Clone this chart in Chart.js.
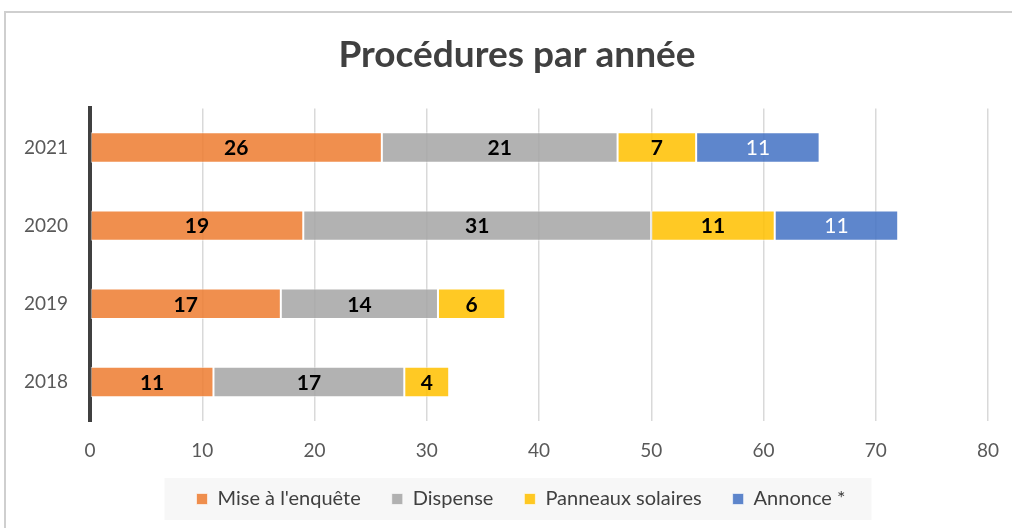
<!DOCTYPE html>
<html>
<head>
<meta charset="utf-8">
<script src="https://cdn.jsdelivr.net/npm/chart.js@4.4.1/dist/chart.umd.min.js"></script>
<style>
  html, body { margin: 0; padding: 0; background: #fff; overflow: hidden; }
  #frame { position: absolute; left: 4px; top: 11px; width: 1100px; height: 600px; border: 2px solid #cfcfcf; }
  #wrap { position: absolute; left: 0; top: 0; width: 1012px; height: 528px; }
</style>
</head>
<body>
<div id="frame"></div>
<div id="wrap"><canvas id="chart"></canvas></div>
<script>
// Données
const annees = ['2021', '2020', '2019', '2018'];
const miseEnquete = [26, 19, 17, 11];
const dispense = [21, 31, 14, 17];
const panneaux = [7, 11, 6, 4];
const annonce = [11, 11, null, null];
const xMax = 80;
const xPas = 10;

const police = 'Lato, "Open Sans", sans-serif';

// Décale un peu le titre et la légende vers la droite (centrés sur le cadre)
const recentrer = {
    id: 'recentrer',
    afterLayout(chart) {
        if (chart.titleBlock) chart.titleBlock.left += 22;
        if (chart.legend) chart.legend.left += 30;
    }
};

// Fond gris clair derrière la légende
const fondLegende = {
    id: 'fondLegende',
    beforeDraw(chart) {
        const lg = chart.legend;
        if (!lg || !lg.legendHitBoxes || !lg.legendHitBoxes.length) return;
        const boxes = lg.legendHitBoxes;
        const gauche = Math.min(...boxes.map(b => b.left));
        const droite = Math.max(...boxes.map(b => b.left + b.width));
        const milieu = boxes[0].top + boxes[0].height / 2;
        const ctx = chart.ctx;
        ctx.save();
        ctx.fillStyle = '#f7f7f7';
        ctx.fillRect(gauche - 32, milieu - 21, droite - gauche + 58, 42);
        ctx.restore();
    }
};

// Étiquettes de valeurs au centre des barres
const etiquettes = {
    id: 'etiquettes',
    afterDatasetsDraw(chart) {
        const ctx = chart.ctx;
        ctx.save();
        ctx.textAlign = 'center';
        ctx.textBaseline = 'middle';
        chart.data.datasets.forEach((ds, i) => {
            const meta = chart.getDatasetMeta(i);
            if (meta.hidden) return;
            meta.data.forEach((bar, j) => {
                const v = ds.data[j];
                if (v === null || v === undefined || v === 0) return;
                const p = bar.getCenterPoint();
                ctx.fillStyle = ds.couleurTexte;
                ctx.font = (ds.texteGras ? 'bold ' : '') + '21px ' + police;
                ctx.fillText(String(v), p.x, p.y + 1);
            });
        });
        ctx.restore();
    }
};

const ctx = document.getElementById('chart').getContext('2d');
new Chart(ctx, {
    type: 'bar',
    data: {
        labels: annees,
        datasets: [
            {
                label: "Mise à l'enquête",
                data: miseEnquete,
                backgroundColor: 'rgba(237,125,49,0.86)',
                couleurTexte: '#000',
                texteGras: true
            },
            {
                label: 'Dispense',
                data: dispense,
                backgroundColor: 'rgba(165,165,165,0.86)',
                couleurTexte: '#000',
                texteGras: true
            },
            {
                label: 'Panneaux solaires',
                data: panneaux,
                backgroundColor: 'rgba(255,192,0,0.86)',
                couleurTexte: '#000',
                texteGras: true
            },
            {
                label: 'Annonce *',
                data: annonce,
                backgroundColor: 'rgba(68,114,196,0.86)',
                couleurTexte: '#fff',
                texteGras: false
            }
        ]
    },
    options: {
        indexAxis: 'y',
        responsive: true,
        maintainAspectRatio: false,
        animation: false,
        datasets: {
            bar: {
                categoryPercentage: 1,
                barPercentage: 0.39,
                borderWidth: 1,
                borderColor: 'rgba(255,255,255,0.6)',
                borderSkipped: false
            }
        },
        layout: {
            padding: { left: 24, right: 24, top: 0, bottom: 9 }
        },
        plugins: {
            title: {
                display: true,
                text: 'Procédures par année',
                color: '#404040',
                font: { family: police, size: 37, weight: 'bold' },
                padding: { top: 33, bottom: 31 }
            },
            legend: {
                position: 'bottom',
                labels: {
                    boxWidth: 11,
                    boxHeight: 11,
                    padding: 31,
                    color: '#404040',
                    font: { family: police, size: 20 }
                }
            },
            tooltip: { enabled: false }
        },
        scales: {
            x: {
                stacked: true,
                min: 0,
                max: xMax,
                ticks: {
                    stepSize: xPas,
                    color: '#595959',
                    padding: 18,
                    font: { family: police, size: 19 }
                },
                grid: {
                    color: '#d9d9d9',
                    lineWidth: 1.5,
                    drawTicks: false
                },
                border: { display: false },
                afterFit: function(scale) {
                    scale.height = 37;
                    scale.paddingLeft = 0;
                    scale.paddingRight = 0;
                }
            },
            y: {
                stacked: true,
                ticks: {
                    color: '#595959',
                    padding: 22,
                    font: { family: police, size: 19 }
                },
                grid: {
                    display: false,
                    drawTicks: false
                },
                border: { color: '#404040', width: 4 },
                afterFit: function(scale) { scale.width = 66; }
            }
        }
    },
    plugins: [recentrer, fondLegende, etiquettes]
});
</script>
</body>
</html>
